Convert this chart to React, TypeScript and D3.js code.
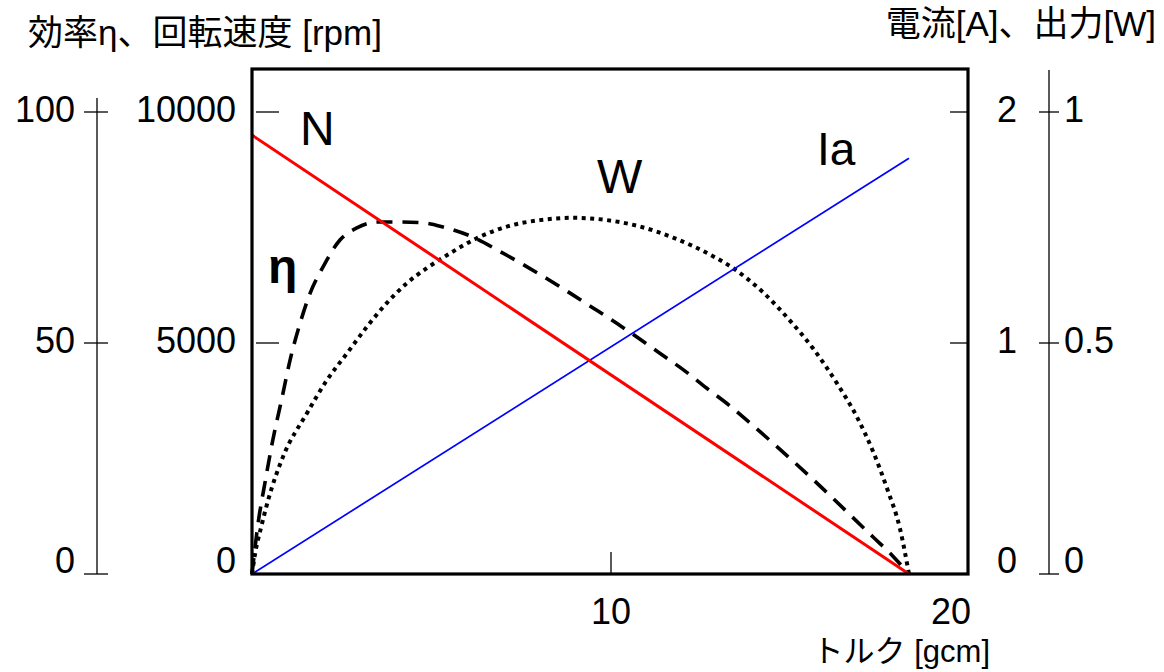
import React from "react";
import * as d3 from "d3";

// Motor characteristic curves vs. torque [gcm]
const speedTorque = [0, 18.3];
const speedRpm = [9500, 0];

const currentTorque = [0, 18.3];
const currentAmp = [0, 1.8];

const outputTorque = [0, 0.1, 0.25, 0.45, 0.86, 1.53, 2.09, 2.65, 3.2, 3.76, 4.32, 4.87, 5.43, 6.27, 7.1, 8.02, 8.94, 9.89, 10.81, 11.73, 12.84, 13.4, 14.23, 14.99, 15.63, 16.3, 16.85, 17.3, 17.69, 18.05, 18.3];
const outputWatt = [0, 0.05, 0.1, 0.16, 0.253, 0.348, 0.42, 0.478, 0.535, 0.587, 0.63, 0.662, 0.69, 0.727, 0.752, 0.766, 0.771, 0.766, 0.752, 0.728, 0.688, 0.662, 0.61, 0.548, 0.488, 0.412, 0.34, 0.265, 0.185, 0.098, 0];

const effTorque = [0, 0.17, 0.36, 0.58, 0.84, 1.06, 1.34, 1.62, 1.98, 2.45, 2.92, 3.48, 4.12, 4.76, 5.32, 6.16, 6.91, 7.55, 8.22, 8.86, 9.5, 10.17, 10.81, 11.45, 12.12, 12.67, 13.31, 13.87, 14.43, 14.99, 15.54, 16.1, 16.74, 17.3, 17.86, 18.3];
const effPercent = [0, 11, 19.7, 29, 38.3, 46.3, 54.3, 60.8, 66.5, 72.3, 74.9, 76.2, 76.2, 76, 75.1, 72.9, 69.8, 67, 63.9, 60.8, 57.6, 54.2, 50.8, 47.3, 43.6, 40.2, 36.4, 32.7, 28.9, 25, 21.1, 17, 12.2, 8, 3.8, 0];

const torqueTicks = [10, 20];
const effTicks = [0, 50, 100];
const speedTicks = [0, 5000, 10000];
const currentTicks = [0, 1, 2];
const outputTicks = [0, 0.5, 1];

const W = 1164;
const H = 672;
const left = 252;
const right = 968;
const top = 69;
const bottom = 574;

const LATIN = "'Liberation Sans', Arial, 'Noto Sans CJK JP', sans-serif";

export default function App() {
  const x = d3.scaleLinear([0, 20], [left, 970]);
  const ySpeed = d3.scaleLinear([0, 10000], [bottom, 112]);
  const yEff = d3.scaleLinear([0, 100], [bottom, 112]);
  const yCur = d3.scaleLinear([0, 2], [bottom, 112]);
  const yOut = d3.scaleLinear([0, 1], [bottom, 112]);

  const line = (xs: number[], ys: number[], ys2: d3.ScaleLinear<number, number>) =>
    d3
      .line<number>()
      .x((_, i) => x(xs[i]))
      .y((v) => ys2(v))
      .curve(d3.curveMonotoneX)(ys) as string;

  const labelY = (y: number) => Math.min(y + 10, bottom - 1);

  const outerL = 97;
  const outerR = 1049;
  const fs = 36;

  return (
    <svg
      width={W}
      height={H}
      style={{ position: "absolute", left: 0, top: 0, background: "#fff" }}
      fontFamily={LATIN}
    >
      <rect x={0} y={0} width={W} height={H} fill="#fff" />

      {/* axis titles */}
      <text x={28} y={45} fontSize={35} fill="#000">効率η、回転速度 [rpm]</text>
      <text x={1156} y={36} fontSize={35} fill="#000" textAnchor="end">電流[A]、出力[W]</text>
      <text x={990} y={662} fontSize={31} fill="#000" textAnchor="end">トルク [gcm]</text>

      {/* outer left axis: efficiency */}
      <line x1={outerL} x2={outerL} y1={98} y2={bottom} stroke="#000" strokeWidth={1.3} />
      {effTicks.map((v) => (
        <g key={"e" + v}>
          <line x1={outerL - 13} x2={outerL + 11} y1={yEff(v)} y2={yEff(v)} stroke="#000" strokeWidth={1.3} />
          <text x={75} y={labelY(yEff(v))} fontSize={fs} textAnchor="end">{v}</text>
        </g>
      ))}

      {/* inner left axis: speed */}
      {speedTicks.map((v) => (
        <g key={"s" + v}>
          {v > 0 && (
            <line x1={left + 4} x2={left + 27} y1={ySpeed(v)} y2={ySpeed(v)} stroke="#000" strokeWidth={1.3} />
          )}
          <text x={236} y={labelY(ySpeed(v))} fontSize={fs} textAnchor="end">{v}</text>
        </g>
      ))}

      {/* inner right axis: current */}
      {currentTicks.map((v) => (
        <g key={"c" + v}>
          {v > 0 && (
            <line x1={right - 18} x2={right} y1={yCur(v)} y2={yCur(v)} stroke="#000" strokeWidth={1.3} />
          )}
          <text x={1007} y={labelY(yCur(v))} fontSize={fs} textAnchor="middle">{v}</text>
        </g>
      ))}

      {/* outer right axis: output */}
      <line x1={outerR} x2={outerR} y1={70} y2={bottom} stroke="#000" strokeWidth={1.3} />
      {outputTicks.map((v) => (
        <g key={"o" + v}>
          <line x1={outerR - 10} x2={outerR + 10} y1={yOut(v)} y2={yOut(v)} stroke="#000" strokeWidth={1.3} />
          <text x={1064} y={labelY(yOut(v))} fontSize={fs} textAnchor="start">{v}</text>
        </g>
      ))}

      {/* torque axis */}
      {torqueTicks.map((v) => (
        <g key={"t" + v}>
          {x(v) < right - 5 && (
            <line x1={x(v)} x2={x(v)} y1={bottom - 22} y2={bottom} stroke="#000" strokeWidth={1.3} />
          )}
          <text x={Math.min(x(v), right - 17)} y={624} fontSize={fs} textAnchor="middle">{v}</text>
        </g>
      ))}

      {/* curves */}
      <path d={line(outputTorque, outputWatt, yOut)} fill="none" stroke="#000" strokeWidth={4} strokeDasharray="4 4.5" />
      <path d={line(effTorque, effPercent, yEff)} fill="none" stroke="#000" strokeWidth={3.6} strokeDasharray="16 10" />
      <path d={line(currentTorque, currentAmp, yCur)} fill="none" stroke="#0000ff" strokeWidth={1.7} />
      <path d={line(speedTorque, speedRpm, ySpeed)} fill="none" stroke="#ff0000" strokeWidth={3} />

      {/* frame */}
      <rect x={left} y={top} width={right - left} height={bottom - top} fill="none" stroke="#000" strokeWidth={3.2} />

      {/* series labels */}
      <text x={300} y={145} fontSize={48}>N</text>
      <text x={597} y={193} fontSize={48}>W</text>
      <text x={817} y={165} fontSize={46}>Ia</text>
      <text x={268} y={283} fontSize={48} fontWeight="bold">η</text>
    </svg>
  );
}
